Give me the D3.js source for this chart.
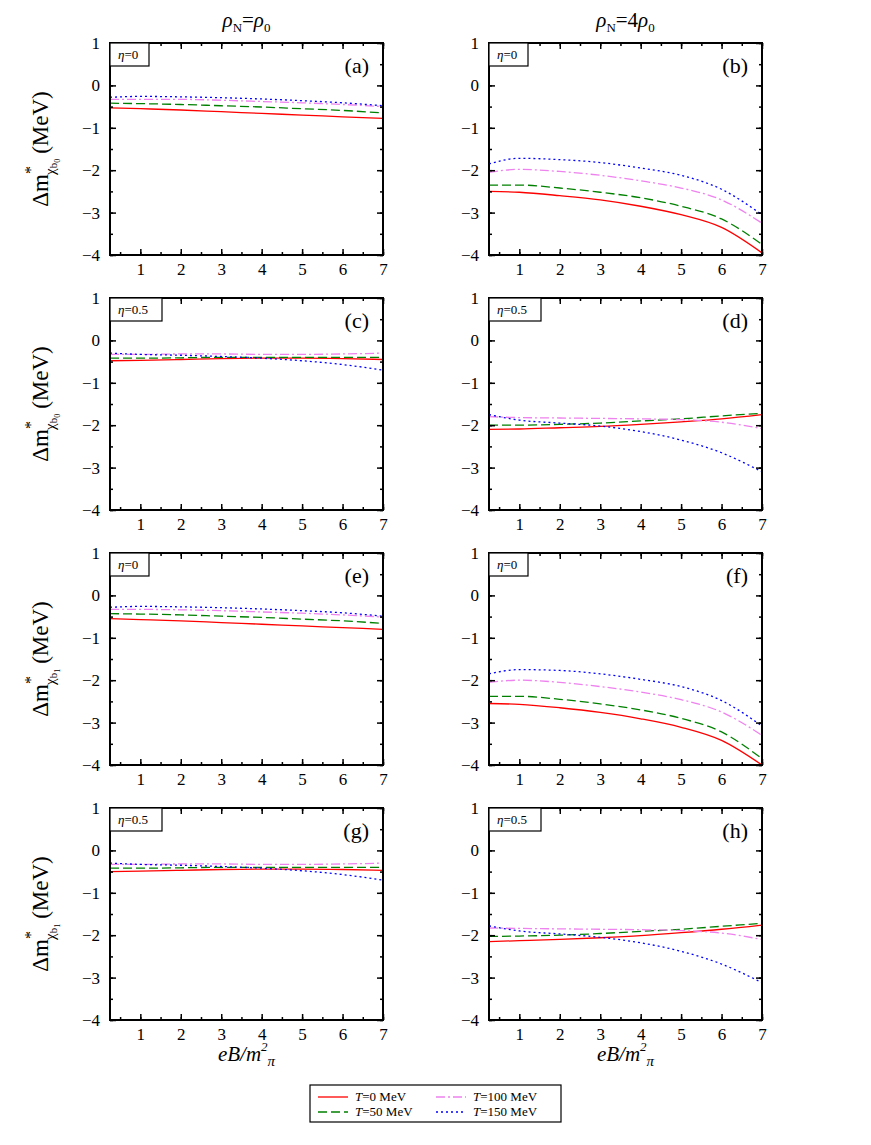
<!DOCTYPE html>
<html>
<head>
<meta charset="utf-8">
<script src="https://cdn.jsdelivr.net/npm/d3@7"></script>
<style>
  body { margin: 0; background: #fff; }
  svg, svg text { font-family: "Liberation Serif", "Times New Roman", "DejaVu Serif", serif !important; }
</style>
</head>
<body>
<svg id="chart" width="871" height="1145"></svg>
<script>
// eB/m_pi^2 sample points
var eB = [0.25, 1, 2, 3, 4, 5, 6, 7];
var temps = ['T=0 MeV', 'T=50 MeV', 'T=100 MeV', 'T=150 MeV'];
var panelLabels = ['(a)', '(b)', '(c)', '(d)', '(e)', '(f)', '(g)', '(h)'];
var etaLabels = ['0', '0', '0.5', '0.5', '0', '0', '0.5', '0.5'];
var yTicks = [1, 0, -1, -2, -3, -4];
var xTicks = [1, 2, 3, 4, 5, 6, 7];

// each panel: [T0, T50, T100, T150]
var panelA = [
  [-0.53, -0.55, -0.58, -0.62, -0.66, -0.70, -0.74, -0.78],
  [-0.42, -0.43, -0.45, -0.48, -0.51, -0.55, -0.59, -0.65],
  [-0.33, -0.33, -0.33, -0.35, -0.38, -0.41, -0.45, -0.50],
  [-0.28, -0.26, -0.27, -0.29, -0.32, -0.36, -0.41, -0.48]
];
var panelB = [
  [-2.50, -2.52, -2.60, -2.70, -2.85, -3.05, -3.35, -3.95],
  [-2.35, -2.35, -2.42, -2.52, -2.65, -2.85, -3.15, -3.75],
  [-2.05, -1.98, -2.03, -2.12, -2.25, -2.42, -2.70, -3.25],
  [-1.85, -1.72, -1.75, -1.82, -1.95, -2.12, -2.45, -3.05]
];
var panelC = [
  [-0.48, -0.47, -0.45, -0.43, -0.42, -0.42, -0.43, -0.45],
  [-0.42, -0.42, -0.41, -0.40, -0.40, -0.40, -0.40, -0.40],
  [-0.33, -0.33, -0.32, -0.32, -0.33, -0.33, -0.32, -0.30],
  [-0.30, -0.33, -0.35, -0.38, -0.42, -0.48, -0.57, -0.70]
];
var panelD = [
  [-2.10, -2.09, -2.06, -2.03, -1.98, -1.92, -1.85, -1.75],
  [-2.00, -2.00, -1.98, -1.95, -1.90, -1.85, -1.78, -1.72],
  [-1.80, -1.82, -1.83, -1.84, -1.85, -1.87, -1.93, -2.08],
  [-1.75, -1.88, -1.95, -2.02, -2.15, -2.35, -2.65, -3.10]
];
var panelE = [
  [-0.55, -0.57, -0.60, -0.64, -0.68, -0.72, -0.76, -0.80],
  [-0.43, -0.44, -0.46, -0.49, -0.52, -0.56, -0.60, -0.66],
  [-0.33, -0.33, -0.34, -0.36, -0.39, -0.42, -0.46, -0.51],
  [-0.28, -0.26, -0.27, -0.29, -0.32, -0.36, -0.41, -0.49]
];
var panelF = [
  [-2.55, -2.57, -2.65, -2.76, -2.91, -3.11, -3.42, -4.00],
  [-2.38, -2.38, -2.45, -2.56, -2.70, -2.90, -3.22, -3.85],
  [-2.05, -2.00, -2.05, -2.15, -2.28, -2.46, -2.75, -3.30],
  [-1.85, -1.75, -1.77, -1.85, -1.98, -2.15, -2.48, -3.08]
];
var panelG = [
  [-0.50, -0.49, -0.47, -0.45, -0.44, -0.44, -0.45, -0.47],
  [-0.42, -0.42, -0.41, -0.40, -0.40, -0.40, -0.40, -0.40],
  [-0.33, -0.33, -0.32, -0.32, -0.33, -0.33, -0.32, -0.30],
  [-0.30, -0.33, -0.35, -0.38, -0.42, -0.48, -0.57, -0.70]
];
var panelH = [
  [-2.15, -2.13, -2.10, -2.06, -2.01, -1.94, -1.86, -1.76],
  [-2.03, -2.02, -2.00, -1.96, -1.91, -1.86, -1.79, -1.72],
  [-1.83, -1.84, -1.85, -1.86, -1.87, -1.89, -1.95, -2.10],
  [-1.78, -1.90, -1.97, -2.05, -2.18, -2.38, -2.68, -3.12]
];
var panels = [panelA, panelB, panelC, panelD, panelE, panelF, panelG, panelH];

var colors = ['#ff0000', '#008000', '#ee82ee', '#0000ff'];
var dashes = [null, '9,4', '9,3,2,3', '2,3'];

var svg = d3.select('#chart');
var colX = [110, 489];
var rowY = [43, 298, 553, 808];
var pw = 273, ph = 212;

var x = d3.scaleLinear().domain([0.25, 7]).range([0, pw]);
var y = d3.scaleLinear().domain([-4, 1]).range([ph, 0]);
var line = d3.line().x(function(d, i) { return x(eB[i]); }).y(function(d) { return y(d); }).curve(d3.curveMonotoneX);

panels.forEach(function(series, p) {
  var col = p % 2, row = Math.floor(p / 2);
  var g = svg.append('g').attr('transform', 'translate(' + colX[col] + ',' + rowY[row] + ')');

  var clipId = 'clip' + p;
  g.append('clipPath').attr('id', clipId).append('rect').attr('width', pw).attr('height', ph);

  series.forEach(function(vals, k) {
    g.append('path').datum(vals)
      .attr('clip-path', 'url(#' + clipId + ')')
      .attr('fill', 'none')
      .attr('stroke', colors[k])
      .attr('stroke-width', 1.3)
      .attr('stroke-dasharray', dashes[k])
      .attr('d', line);
  });

  // inward ticks on all sides
  var minorX = d3.range(0.5, 7.01, 0.5);
  var minorY = d3.range(-4, 1.01, 0.5);
  g.append('g').call(d3.axisBottom(x).tickValues(xTicks).tickSize(-6).tickPadding(8).tickFormat(d3.format('d')))
    .attr('transform', 'translate(0,' + ph + ')');
  g.append('g').call(d3.axisBottom(x).tickValues(minorX).tickSize(-3).tickFormat(''))
    .attr('transform', 'translate(0,' + ph + ')');
  g.append('g').call(d3.axisTop(x).tickValues(xTicks).tickSize(-6).tickFormat(''));
  g.append('g').call(d3.axisTop(x).tickValues(minorX).tickSize(-3).tickFormat(''));
  g.append('g').call(d3.axisLeft(y).tickValues(yTicks).tickSize(-6).tickPadding(10).tickFormat(d3.format('d')));
  g.append('g').call(d3.axisLeft(y).tickValues(minorY).tickSize(-3).tickFormat(''));
  g.append('g').call(d3.axisRight(y).tickValues(yTicks).tickSize(-6).tickFormat(''))
    .attr('transform', 'translate(' + pw + ',0)');
  g.append('g').call(d3.axisRight(y).tickValues(minorY).tickSize(-3).tickFormat(''))
    .attr('transform', 'translate(' + pw + ',0)');
  g.selectAll('.domain').remove();
  g.selectAll('g').attr('font-family', null);
  g.selectAll('.tick line').attr('stroke', '#000').attr('stroke-width', 1.5);
  g.selectAll('.tick text').attr('font-size', 17);

  g.append('rect').attr('width', pw).attr('height', ph)
    .attr('fill', 'none').attr('stroke', '#000').attr('stroke-width', 2);

  // eta box
  var eta = etaLabels[p];
  var bw = eta === '0' ? 39 : 52;
  g.append('rect').attr('width', bw).attr('height', 23)
    .attr('fill', '#fff').attr('stroke', '#000').attr('stroke-width', 1.2);
  var et = g.append('text').attr('x', 8).attr('y', 16).attr('font-size', 13);
  et.append('tspan').attr('font-style', 'italic').text('η');
  et.append('tspan').text('=' + eta);

  g.append('text').attr('x', pw - 14).attr('y', 30).attr('text-anchor', 'end')
    .attr('font-size', 22).text(panelLabels[p]);

  // y label on left column
  if (col === 0) {
    var sub = row < 2 ? '0' : '1';
    var yl = svg.append('text')
      .attr('transform', 'translate(48,' + (rowY[row] + ph / 2) + ') rotate(-90)')
      .attr('text-anchor', 'middle').attr('font-size', 23);
    yl.append('tspan').text('Δm');
    yl.append('tspan').attr('font-size', 16).attr('dy', -12).text('*');
    yl.append('tspan').attr('font-size', 15).attr('dx', -9).attr('dy', 19).text('χ');
    yl.append('tspan').attr('font-size', 11).attr('dy', 2).text('b');
    yl.append('tspan').attr('font-size', 8).attr('dy', 3).text(sub);
    yl.append('tspan').attr('dx', 5).attr('dy', -12).text('(MeV)');
  }
});

// column titles
[['ρ', 'N', '=ρ', '0'], ['ρ', 'N', '=4ρ', '0']].forEach(function(parts, c) {
  var t = svg.append('text').attr('x', colX[c] + pw / 2).attr('y', 27)
    .attr('text-anchor', 'middle').attr('font-size', 21);
  t.append('tspan').attr('font-style', 'italic').text(parts[0]);
  t.append('tspan').attr('font-size', 13).attr('dy', 5).text(parts[1]);
  t.append('tspan').attr('dy', -5).text(parts[2].slice(0, -1));
  t.append('tspan').attr('font-style', 'italic').text(parts[2].slice(-1));
  t.append('tspan').attr('font-size', 13).attr('dy', 5).text(parts[3]);
});

// x axis labels
colX.forEach(function(cx) {
  var t = svg.append('text').attr('x', cx + pw / 2).attr('y', 1061)
    .attr('text-anchor', 'middle').attr('font-size', 21).attr('font-style', 'italic');
  t.append('tspan').text('eB/m');
  t.append('tspan').attr('font-size', 13).attr('dy', -10).text('2');
  t.append('tspan').attr('font-size', 15).attr('dy', 15).text('π');
});

// legend
var lg = svg.append('g').attr('transform', 'translate(310,1085)');
lg.append('rect').attr('width', 251).attr('height', 37)
  .attr('fill', '#fff').attr('stroke', '#000').attr('stroke-width', 1.2);
temps.forEach(function(name, k) {
  var lx = 8 + (k >= 2 ? 118 : 0), ly = 12 + (k % 2) * 15;
  lg.append('line').attr('x1', lx).attr('x2', lx + 30).attr('y1', ly).attr('y2', ly)
    .attr('stroke', colors[k]).attr('stroke-width', 1.3).attr('stroke-dasharray', dashes[k]);
  var t = lg.append('text').attr('x', lx + 37).attr('y', ly + 4).attr('font-size', 13);
  t.append('tspan').attr('font-style', 'italic').text('T');
  t.append('tspan').text(name.slice(1));
});
</script>
</body>
</html>
